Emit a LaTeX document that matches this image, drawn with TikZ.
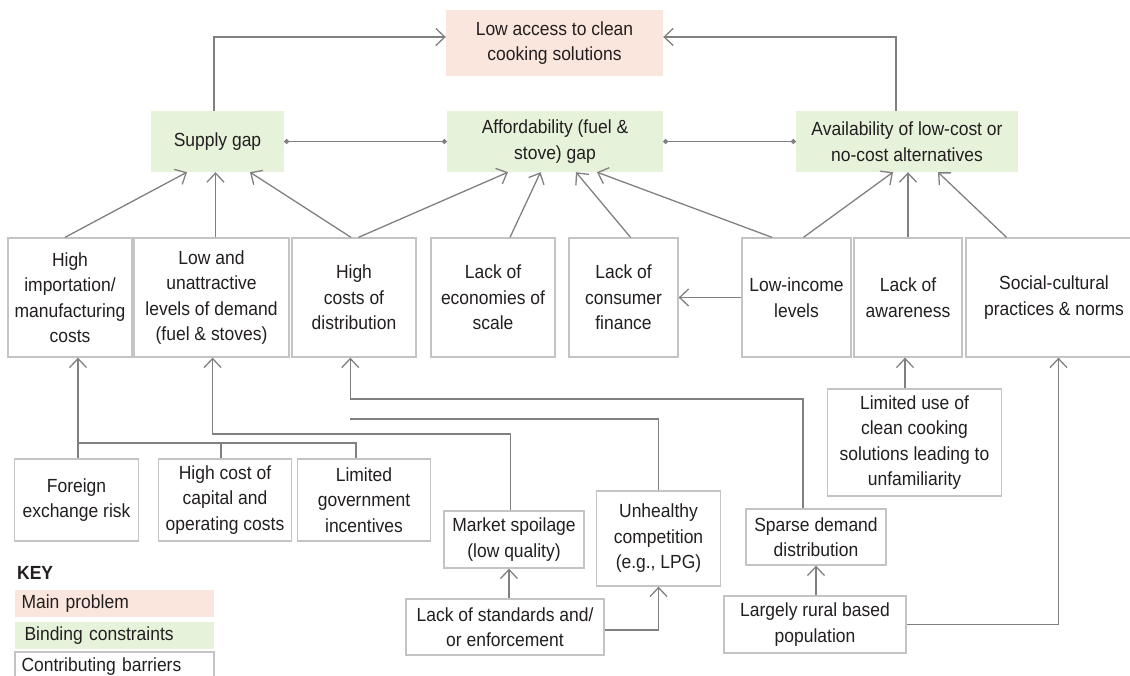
\documentclass[tikz,border=0pt]{standalone}
\usepackage{fontspec}
\setmainfont{Liberation Sans}[FakeStretch=0.92]
\usetikzlibrary{arrows.meta}
\definecolor{probpink}{HTML}{FAE6DC}
\definecolor{bindgreen}{HTML}{E6F2DA}
\definecolor{edgegray}{HTML}{C4C4C4}
\definecolor{linegray}{HTML}{808080}
\definecolor{inkblack}{HTML}{231F20}
\begin{document}
\begin{tikzpicture}[x=1pt,y=-1pt,
  font=\fontsize{19}{25.5}\selectfont, text=inkblack,
  mainprob/.style={fill=probpink, align=center, inner sep=0pt},
  bind/.style={fill=bindgreen, align=center, inner sep=0pt, minimum height=61pt},
  barrier/.style={draw=edgegray, line width=1.3pt, fill=white, align=center, inner sep=0pt},
  link/.style={draw=linegray, line width=1.3pt},
  arr/.style={link, -{Straight Barb[length=9pt,width=17pt]}},
  dotlink/.style={link, {Circle[length=5pt]}-{Circle[length=5pt]}},
]
\useasboundingbox (0,0) rectangle (1130,676);
% main problem and binding constraints
\node[mainprob, minimum width=217pt, minimum height=66pt] (main) at (554.5,43) {Low access to clean\\cooking solutions};
\node[bind, minimum width=133pt] (supply) at (217.5,141.5) {Supply gap};
\node[bind, minimum width=216pt] (afford) at (555,141.5) {Affordability (fuel \&\\stove) gap};
\node[bind, minimum width=222pt] (avail) at (907,141.5) {Availability of low-cost or\\no-cost alternatives};
\draw[arr] ([xshift=-3.5pt]supply.north) |- ([yshift=6pt]main.west);
\draw[arr] ([xshift=-11pt]avail.north) |- ([yshift=6pt]main.east);
\draw[dotlink] (supply.east) -- (afford.west);
\draw[dotlink] (afford.east) -- (avail.west);
% contributing barriers, first row
\node[barrier, minimum width=124pt, minimum height=119pt] (imp) at (70,297.5) {High\\importation/\\manufacturing\\costs};
\node[barrier, minimum width=155pt, minimum height=119pt] (low) at (211.5,297.5) {Low and\\unattractive\\levels of demand\\(fuel \& stoves)};
\node[barrier, minimum width=124pt, minimum height=119pt] (dist) at (354,297.5) {High\\costs of\\distribution};
\node[barrier, minimum width=124pt, minimum height=119pt] (econ) at (493,297.5) {Lack of\\economies of\\scale};
\node[barrier, minimum width=109pt, minimum height=119pt] (fin) at (623.5,297.5) {Lack of\\consumer\\finance};
\node[barrier, minimum width=109pt, minimum height=119pt] (inc) at (796.5,297.5) {Low-income\\levels};
\node[barrier, minimum width=108pt, minimum height=119pt] (aware) at (908,297.5) {Lack of\\awareness};
\node[barrier, minimum width=176pt, minimum height=119pt] (social) at (1054,297.5) {Social-cultural\\practices \& norms};
\draw[arr] ([xshift=-5pt]imp.north) -- ([xshift=-30.5pt]supply.south);
\draw[arr] ([xshift=4pt]low.north) -- ([xshift=4pt]low.north |- supply.south);
\draw[arr] ([xshift=-3pt]dist.north) -- ([xshift=32.5pt]supply.south);
\draw[arr] ([xshift=4.5pt]dist.north) -- ([xshift=-47pt]afford.south);
\draw[arr] ([xshift=17pt]econ.north) -- ([xshift=-14.5pt]afford.south);
\draw[arr] ([xshift=7pt]fin.north) -- ([xshift=21pt]afford.south);
\draw[arr] ([xshift=-24.5pt]inc.north) -- ([xshift=42pt]afford.south);
\draw[arr] ([xshift=7pt]inc.north) -- ([xshift=-14pt]avail.south);
\draw[arr] (aware.north) -- (aware.north |- avail.south);
\draw[arr] ([xshift=-47.5pt]social.north) -- ([xshift=31pt]avail.south);
\draw[arr] (inc.west) -- (fin.east);
% contributing barriers, lower rows
\node[barrier, minimum width=124pt, minimum height=82pt] (forex) at (76.5,500) {Foreign\\exchange risk};
\node[barrier, minimum width=133pt, minimum height=82pt] (capital) at (225,500) {High cost of\\capital and\\operating costs};
\node[barrier, minimum width=133pt, minimum height=82pt] (govt) at (364,500) {Limited\\government\\incentives};
\node[barrier, minimum width=140pt, minimum height=57pt] (spoil) at (514,539.5) {Market spoilage\\(low quality)};
\node[barrier, minimum width=198pt, minimum height=56pt] (standards) at (505,627) {Lack of standards and/\\or enforcement};
\node[barrier, minimum width=124pt, minimum height=95pt] (unhealthy) at (658.5,538.5) {Unhealthy\\competition\\(e.g., LPG)};
\node[barrier, minimum width=140pt, minimum height=56pt] (sparse) at (816,537) {Sparse demand\\distribution};
\node[barrier, minimum width=182pt, minimum height=57pt] (rural) at (815,624.5) {Largely rural based\\population};
\node[barrier, minimum width=174pt, minimum height=107pt] (limuse) at (914.5,442.5) {Limited use of\\clean cooking\\solutions leading to\\unfamiliarity};
\coordinate (fxbus) at (78,443);
\coordinate (lowbus) at (212.6,434);
\coordinate (distbus) at (350.3,399);
\coordinate (distbus2) at (350.3,419);
\draw[arr] (forex.north -| fxbus) -- (fxbus) -- (imp.south -| fxbus);
\draw[link] (fxbus) -| ([xshift=-8pt]govt.north);
\draw[link] ([xshift=-4pt]capital.north) -- ([xshift=-4pt]capital.north |- fxbus);
\draw[arr] ([xshift=-3.5pt]spoil.north) |- (lowbus) -- (low.south -| lowbus);
\draw[arr] ([xshift=-13pt]sparse.north) |- (distbus) -- (dist.south -| distbus);
\draw[link] (unhealthy.north) |- (distbus2);
\draw[arr] ([xshift=-3pt]aware.south |- limuse.north) -- ([xshift=-3pt]aware.south);
\draw[arr] ([xshift=4pt]standards.north) -- ([xshift=4pt]standards.north |- spoil.south);
\draw[arr] ([yshift=-3pt]standards.east) -| (unhealthy.south);
\draw[arr] (sparse.south |- rural.north) -- (sparse.south);
\draw[arr] (rural.east) -| ([xshift=4.5pt]social.south);
% key
\node[anchor=west, inner sep=0pt, font=\fontsize{19}{25.5}\selectfont\bfseries] (keytitle) at (17,573) {KEY};
\node[mainprob, minimum height=27pt, text width=186pt, inner xsep=6.5pt, align=left] (keymain) at (114.5,603.5) {Main problem};
\node[bind, minimum height=27pt, text width=186pt, inner xsep=6.5pt, align=left] (keybind) at (114.5,635.5) {\hspace*{3pt}Binding constraints};
\node[barrier, minimum height=30pt, text width=186pt, inner xsep=6.5pt, align=left] (keycontrib) at (114.5,667) {Contributing barriers};
\end{tikzpicture}
\end{document}
